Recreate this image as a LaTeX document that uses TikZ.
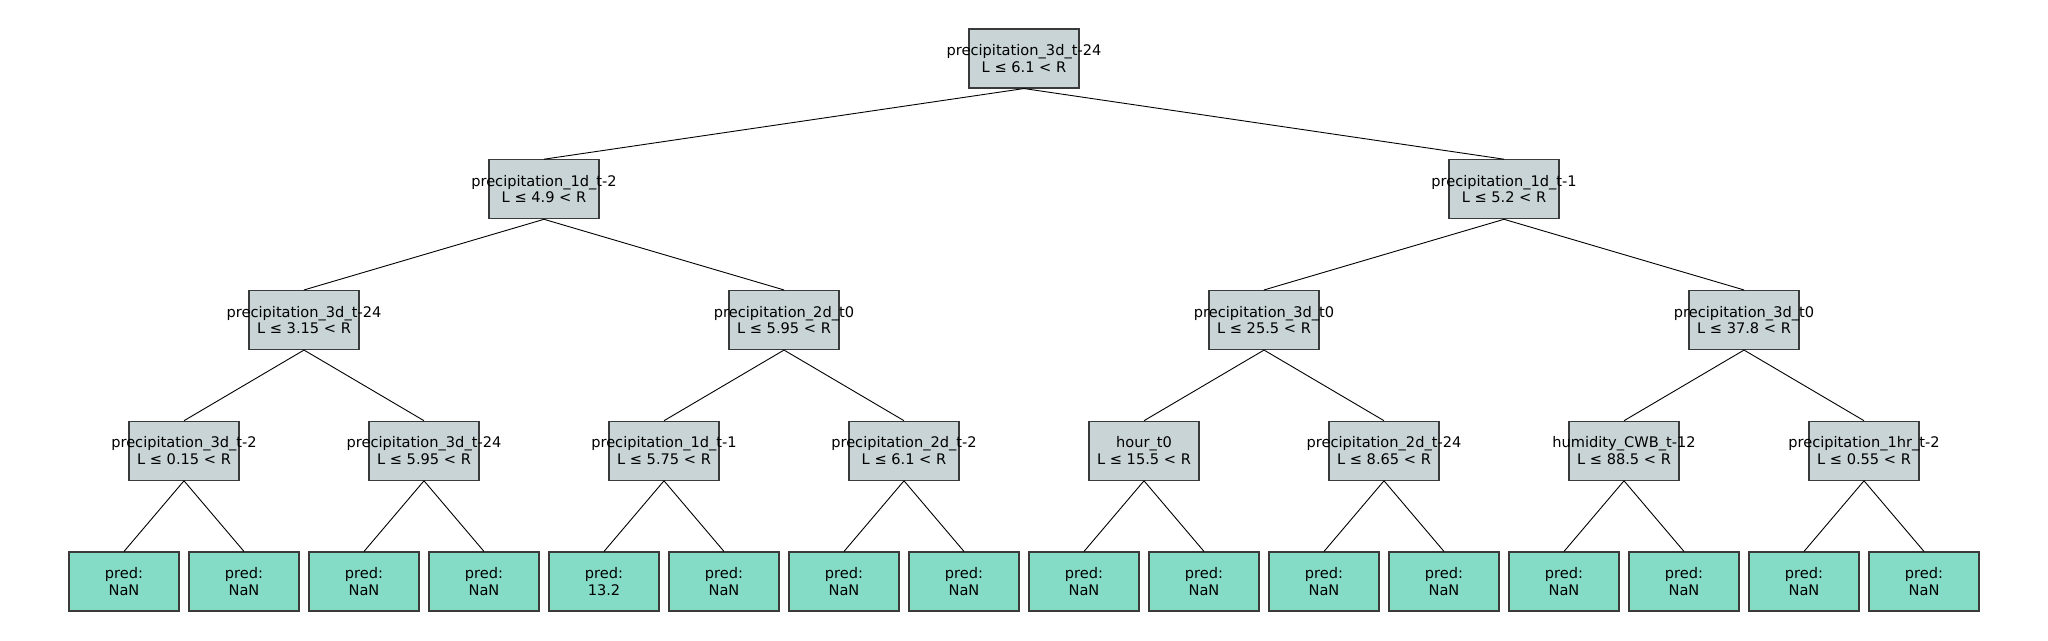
\documentclass[tikz,border=0pt]{standalone}
\usepackage{fontspec}
\setmainfont{DejaVu Sans}
\definecolor{splitfill}{HTML}{C8D4D6}
\definecolor{leaffill}{HTML}{84DCC6}
\definecolor{boxline}{HTML}{3A3A3A}
\newcommand{\twoline}[2]{\makebox[0pt][c]{#1}\\\makebox[0pt][c]{#2}}
\tikzset{
  tnode/.style={draw=boxline, line width=1.1pt, minimum width=110pt, minimum height=59pt,
    inner sep=0pt, align=center, font=\fontsize{14.6}{16.5}\selectfont},
  split/.style={tnode, fill=splitfill},
  leaf/.style={tnode, fill=leaffill},
  edge/.style={draw=black, line width=0.9pt}
}
\begin{document}
\begin{tikzpicture}[x=1pt,y=-1pt]
\useasboundingbox (0,0) rectangle (2048,640);
% root
\node[split] (r) at (1024,58.5) {\twoline{precipitation\_3d\_t-24}{L ≤ 6.1 < R}};
% level 1
\node[split] (a) at (544,189.25) {\twoline{precipitation\_1d\_t-2}{L ≤ 4.9 < R}};
\node[split] (b) at (1504,189.25) {\twoline{precipitation\_1d\_t-1}{L ≤ 5.2 < R}};
% level 2
\node[split] (aa) at (304,320) {\twoline{precipitation\_3d\_t-24}{L ≤ 3.15 < R}};
\node[split] (ab) at (784,320) {\twoline{precipitation\_2d\_t0}{L ≤ 5.95 < R}};
\node[split] (ba) at (1264,320) {\twoline{precipitation\_3d\_t0}{L ≤ 25.5 < R}};
\node[split] (bb) at (1744,320) {\twoline{precipitation\_3d\_t0}{L ≤ 37.8 < R}};
% level 3
\node[split] (c1) at (184,450.75) {\twoline{precipitation\_3d\_t-2}{L ≤ 0.15 < R}};
\node[split] (c2) at (424,450.75) {\twoline{precipitation\_3d\_t-24}{L ≤ 5.95 < R}};
\node[split] (c3) at (664,450.75) {\twoline{precipitation\_1d\_t-1}{L ≤ 5.75 < R}};
\node[split] (c4) at (904,450.75) {\twoline{precipitation\_2d\_t-2}{L ≤ 6.1 < R}};
\node[split] (c5) at (1144,450.75) {\twoline{hour\_t0}{L ≤ 15.5 < R}};
\node[split] (c6) at (1384,450.75) {\twoline{precipitation\_2d\_t-24}{L ≤ 8.65 < R}};
\node[split] (c7) at (1624,450.75) {\twoline{humidity\_CWB\_t-12}{L ≤ 88.5 < R}};
\node[split] (c8) at (1864,450.75) {\twoline{precipitation\_1hr\_t-2}{L ≤ 0.55 < R}};
% leaves
\node[leaf] (l1) at (124,581.5) {\twoline{pred:}{NaN}};
\node[leaf] (l2) at (244,581.5) {\twoline{pred:}{NaN}};
\node[leaf] (l3) at (364,581.5) {\twoline{pred:}{NaN}};
\node[leaf] (l4) at (484,581.5) {\twoline{pred:}{NaN}};
\node[leaf] (l5) at (604,581.5) {\twoline{pred:}{13.2}};
\node[leaf] (l6) at (724,581.5) {\twoline{pred:}{NaN}};
\node[leaf] (l7) at (844,581.5) {\twoline{pred:}{NaN}};
\node[leaf] (l8) at (964,581.5) {\twoline{pred:}{NaN}};
\node[leaf] (l9) at (1084,581.5) {\twoline{pred:}{NaN}};
\node[leaf] (l10) at (1204,581.5) {\twoline{pred:}{NaN}};
\node[leaf] (l11) at (1324,581.5) {\twoline{pred:}{NaN}};
\node[leaf] (l12) at (1444,581.5) {\twoline{pred:}{NaN}};
\node[leaf] (l13) at (1564,581.5) {\twoline{pred:}{NaN}};
\node[leaf] (l14) at (1684,581.5) {\twoline{pred:}{NaN}};
\node[leaf] (l15) at (1804,581.5) {\twoline{pred:}{NaN}};
\node[leaf] (l16) at (1924,581.5) {\twoline{pred:}{NaN}};
% edges
\foreach \p/\c in {r/a,r/b,a/aa,a/ab,b/ba,b/bb,aa/c1,aa/c2,ab/c3,ab/c4,ba/c5,ba/c6,bb/c7,bb/c8,
  c1/l1,c1/l2,c2/l3,c2/l4,c3/l5,c3/l6,c4/l7,c4/l8,c5/l9,c5/l10,c6/l11,c6/l12,c7/l13,c7/l14,c8/l15,c8/l16}
  \draw[edge] (\p.south) -- (\c.north);
\end{tikzpicture}
\end{document}
